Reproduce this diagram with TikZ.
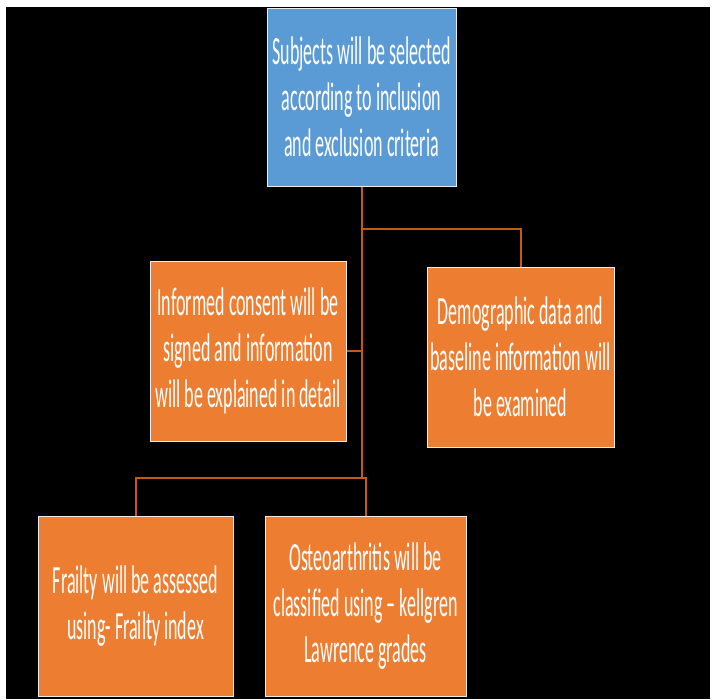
\documentclass[tikz,border=0pt]{standalone}
\usepackage{fontspec}
\usepackage{tikz}
\usetikzlibrary{positioning}
\usetikzlibrary{calc}
\newfontfamily\boxfont[FakeStretch=0.45,Ligatures=TeX]{Carlito}
\definecolor{boxblue}{HTML}{5B9BD5}
\definecolor{boxorange}{HTML}{ED7D31}
\definecolor{linkorange}{HTML}{C55A11}
\tikzset{every picture/.style={x=1pt,y=-1pt},
  box/.style={draw=white!85!gray,line width=1pt,fill=boxorange,text=white,align=center,inner sep=0pt,font=\boxfont\fontsize{40}{46}\selectfont},
  link/.style={draw=linkorange,line width=2pt}}

\begin{document}
\begin{tikzpicture}
\useasboundingbox (0,0) rectangle (712,699);
\fill[black] (6,7) rectangle (710,699);

\node (s1) [box, fill=boxblue, minimum width=189, minimum height=178] at (361.5,97) {Subjects will be selected\\according to inclusion\\and exclusion criteria};
\node (ic) [box, minimum width=196, minimum height=180] at (248,351) {Informed consent will be\\signed and information\\will be explained in detail};
\node (dd) [box, minimum width=187, minimum height=180] at (520.5,357) {Demographic data and\\baseline information will\\be examined};
\node (fr) [box, minimum width=195, minimum height=180] at (135.5,606) {Frailty will be assessed\\using- Frailty index};
\node (oa) [box, minimum width=201, minimum height=180] at (365.5,606) {Osteoarthritis will be\\classified using – kellgren\\Lawrence grades};

\coordinate (sp) at (362,229);
\coordinate (jn) at (362,478);
\draw[link] (s1.south -| sp) -- (jn);
\draw[link] (sp) -| (dd.north);
\draw[link] (ic.east) -- (ic.east -| sp);
\draw[link] (fr.north) |- (jn) -| (oa.north);
\end{tikzpicture}
\end{document}
